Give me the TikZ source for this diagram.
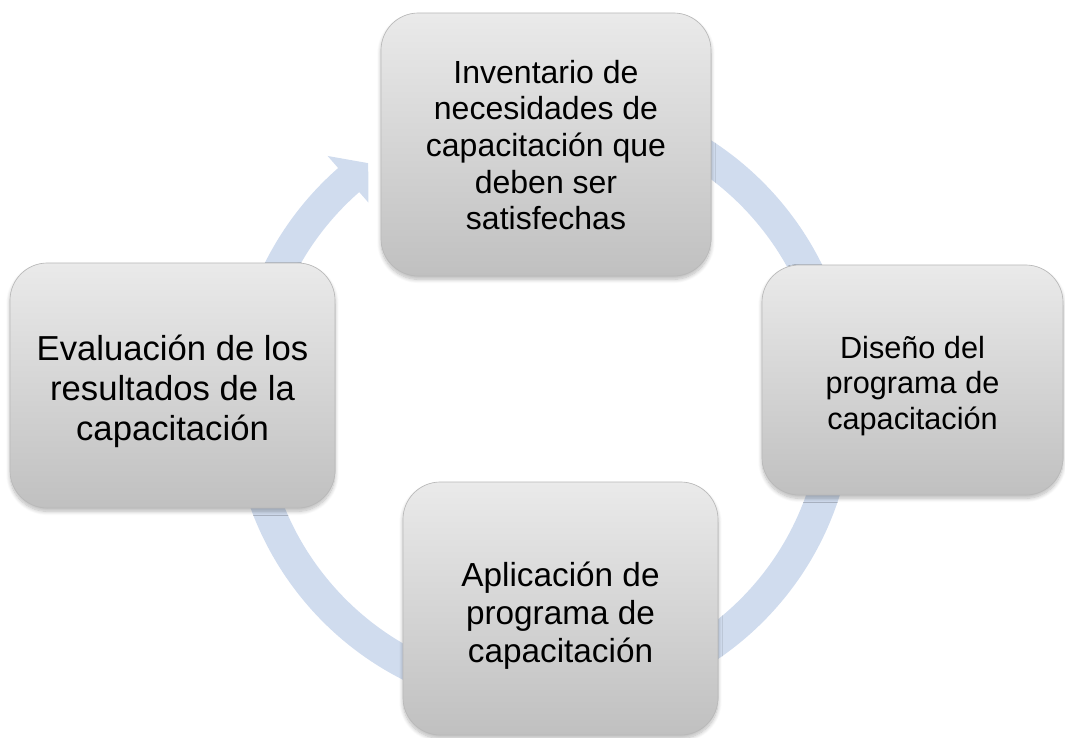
\documentclass[tikz,border=0pt]{standalone}
\usepackage{fontspec}
\setmainfont{Liberation Sans}
\usetikzlibrary{calc,shadows.blur}
\definecolor{ringblue}{RGB}{208,220,238}
\definecolor{boxtop}{RGB}{234,234,234}
\definecolor{boxbot}{RGB}{192,192,192}
\definecolor{boxedge}{RGB}{185,185,185}
\tikzset{
  stagebox/.style={rectangle, rounded corners=28pt, top color=boxtop, bottom color=boxbot,
    draw=boxedge, line width=0.5pt, align=center, inner sep=6pt, text=black,
    blur shadow={shadow xshift=0pt, shadow yshift=-2.5pt, shadow blur radius=3pt,
      shadow blur steps=10, shadow opacity=28}},
}
% #1 = extra height added above the lines (moves the text down by half of it)
\newcommand{\stagetext}[2]{\raisebox{0pt}[\dimexpr\height+#1\relax][\depth]{\begin{tabular}{@{}c@{}}#2\end{tabular}}}
\begin{document}
\begin{tikzpicture}[x=0.75pt,y=-0.75pt]
\useasboundingbox (0,0) rectangle (1065,738);
\coordinate (C) at (543,402);
% circular arrow behind the boxes
\fill[ringblue] ($(C)+(275:311)$) arc[start angle=275,end angle=588.8,radius=311]
  -- ($(C)+(228.8:327)$) -- ($(C)+(233.8:296)$) -- ($(C)+(228.8:265)$)
  -- ($(C)+(228.8:279)$) arc[start angle=588.8,end angle=275,radius=279] -- cycle;
% stages
\node[stagebox, minimum width=247.5pt, minimum height=197.25pt, font=\fontsize{24}{27.5}\selectfont]
  (inv) at (546,144.5) {\stagetext{7pt}{Inventario de\\necesidades de\\capacitación que\\deben ser\\satisfechas}};
\node[stagebox, minimum width=225.75pt, minimum height=172.5pt, font=\fontsize{23}{26.5}\selectfont]
  (dis) at (912.5,380) {\stagetext{10pt}{Diseño del\\programa de\\capacitación}};
\node[stagebox, minimum width=236.25pt, minimum height=189.75pt, font=\fontsize{25}{28.5}\selectfont]
  (apl) at (560.5,608.5) {\stagetext{12pt}{Aplicación de\\programa de\\capacitación}};
\node[stagebox, minimum width=243.75pt, minimum height=183.75pt, font=\fontsize{26}{30}\selectfont]
  (eva) at (172.5,385.5) {\stagetext{10pt}{Evaluación de los\\resultados de la\\capacitación}};
\end{tikzpicture}
\end{document}
